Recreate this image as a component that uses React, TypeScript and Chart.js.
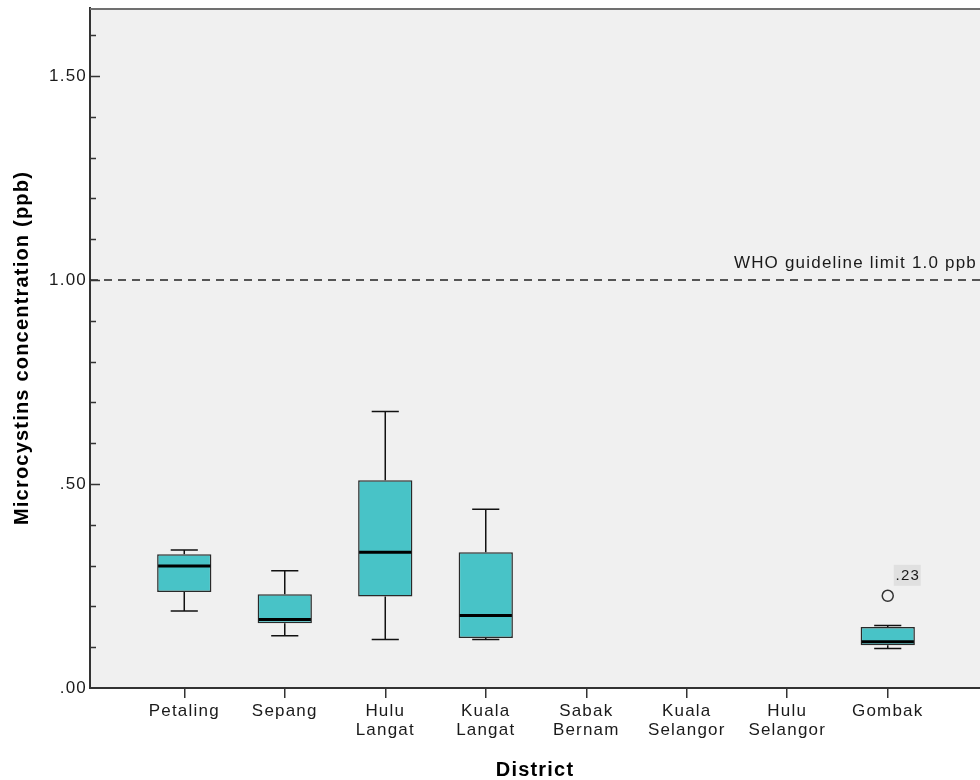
import React, { useEffect, useRef } from 'react';
import { Chart, registerables } from 'chart.js';

Chart.register(...registerables);

// ---- data ----
const districts: string[][] = [
  ['Petaling'],
  ['Sepang'],
  ['Hulu', 'Langat'],
  ['Kuala', 'Langat'],
  ['Sabak', 'Bernam'],
  ['Kuala', 'Selangor'],
  ['Hulu', 'Selangor'],
  ['Gombak'],
];
const whiskerLow: (number | null)[] = [0.189, 0.128, 0.119, 0.119, null, null, null, 0.097];
const quartile1: (number | null)[] = [0.235, 0.159, 0.224, 0.1225, null, null, null, 0.105];
const medians: (number | null)[] = [0.299, 0.168, 0.333, 0.178, null, null, null, 0.1135];
const quartile3: (number | null)[] = [0.328, 0.23, 0.509, 0.333, null, null, null, 0.1495];
const whiskerHigh: (number | null)[] = [0.338, 0.2875, 0.678, 0.438, null, null, null, 0.153];
const outlierX = [7];
const outlierY = [0.226];
const outlierLabels = ['.23'];
const yTickValues = [0, 0.5, 1.0, 1.5];
const yMin = 0;
const yMax = 1.6667;
const xMin = -0.938;
const xMax = 7.918;
const guidelineValue = 1.0;
const guidelineLabel = 'WHO guideline limit 1.0 ppb';
const yTitle = 'Microcystins concentration (ppb)';
const xTitle = 'District';

const FONT = '"Liberation Sans", Arial, Helvetica, sans-serif';
const LS = '1.2px';
const BOX_FILL = '#48c3c7';
const PLOT_BG = '#f0f0f0';
const BOX_HALF = 0.27; // in category units
const CAP_HALF = 0.135;

const spacingPlugin = {
  id: 'spacingAndBg',
  beforeUpdate(chart: any) {
    chart.ctx.letterSpacing = LS;
  },
  beforeDraw(chart: any) {
    const { ctx, chartArea } = chart;
    ctx.save();
    ctx.fillStyle = PLOT_BG;
    ctx.fillRect(chartArea.left, chartArea.top, chartArea.right - chartArea.left, chartArea.bottom - chartArea.top);
    ctx.restore();
    ctx.letterSpacing = LS;
  },
};

const boxPlugin = {
  id: 'boxParts',
  beforeDatasetsDraw(chart: any) {
    const { ctx } = chart;
    const xs = chart.scales.x;
    const ys = chart.scales.y;
    ctx.save();
    ctx.strokeStyle = '#111';
    ctx.lineWidth = 1.5;
    districts.forEach((_, i) => {
      if (quartile1[i] == null) return;
      const px = xs.getPixelForValue(i);
      const cap = xs.getPixelForValue(i + CAP_HALF) - px;
      const yLo = ys.getPixelForValue(whiskerLow[i] as number);
      const yHi = ys.getPixelForValue(whiskerHigh[i] as number);
      const yQ1 = ys.getPixelForValue(quartile1[i] as number);
      const yQ3 = ys.getPixelForValue(quartile3[i] as number);
      ctx.beginPath();
      ctx.moveTo(px, yQ3);
      ctx.lineTo(px, yHi);
      ctx.moveTo(px - cap, yHi);
      ctx.lineTo(px + cap, yHi);
      ctx.moveTo(px, yQ1);
      ctx.lineTo(px, yLo);
      ctx.moveTo(px - cap, yLo);
      ctx.lineTo(px + cap, yLo);
      ctx.stroke();
    });
    ctx.restore();
  },
  afterDatasetsDraw(chart: any) {
    const { ctx, chartArea } = chart;
    const xs = chart.scales.x;
    const ys = chart.scales.y;
    ctx.save();
    // medians
    ctx.strokeStyle = '#000';
    ctx.lineWidth = 3;
    districts.forEach((_, i) => {
      if (medians[i] == null) return;
      const px = xs.getPixelForValue(i);
      const half = xs.getPixelForValue(i + BOX_HALF) - px;
      const y = ys.getPixelForValue(medians[i] as number);
      ctx.beginPath();
      ctx.moveTo(px - half + 1, y);
      ctx.lineTo(px + half - 1, y);
      ctx.stroke();
    });
    // guideline
    const gy = ys.getPixelForValue(guidelineValue);
    ctx.strokeStyle = '#222';
    ctx.lineWidth = 1.5;
    ctx.setLineDash([8, 6]);
    ctx.beginPath();
    ctx.moveTo(chartArea.left, gy);
    ctx.lineTo(chartArea.right, gy);
    ctx.stroke();
    ctx.setLineDash([]);
    ctx.letterSpacing = LS;
    ctx.fillStyle = '#1a1a1a';
    ctx.font = '17px ' + FONT;
    ctx.textAlign = 'right';
    ctx.textBaseline = 'alphabetic';
    ctx.fillText(guidelineLabel, chartArea.right - 3, gy - 12);
    // y ticks (inward, major + minor)
    ctx.strokeStyle = '#333';
    ctx.lineWidth = 1.5;
    for (let k = 1; k <= 16; k++) {
      const v = k / 10;
      if (v > yMax) break;
      const y = Math.round(ys.getPixelForValue(v)) + 0.5;
      const len = k % 5 === 0 ? 10 : 6;
      ctx.beginPath();
      ctx.moveTo(chartArea.left, y);
      ctx.lineTo(chartArea.left + len, y);
      ctx.stroke();
    }
    // outlier labels
    outlierX.forEach((ox, j) => {
      const px = xs.getPixelForValue(ox);
      const py = ys.getPixelForValue(outlierY[j]);
      ctx.fillStyle = '#e0e0e0';
      ctx.fillRect(px + 6, py - 31, 27, 21);
      ctx.fillStyle = '#1a1a1a';
      ctx.textAlign = 'center';
      ctx.textBaseline = 'middle';
      ctx.font = '15px ' + FONT;
      ctx.fillText(outlierLabels[j], px + 20, py - 20);
    });
    // top frame
    ctx.fillStyle = '#707070';
    ctx.fillRect(chartArea.left, chartArea.top, chartArea.right - chartArea.left, 2);
    ctx.restore();
  },
};

export default function App() {
  const ref = useRef<HTMLCanvasElement>(null);
  useEffect(() => {
    document.body.style.margin = '0';
    document.body.style.background = '#ffffff';
    const boxData = districts
      .map((_, i) => (quartile1[i] == null ? null : { x: i, y: [quartile1[i], quartile3[i]] }))
      .filter((d) => d !== null);
    const chart = new Chart(ref.current as HTMLCanvasElement, {
      type: 'bar',
      data: {
        datasets: [
          {
            type: 'bar',
            data: boxData as any,
            backgroundColor: BOX_FILL,
            borderColor: '#2a2a2a',
            borderWidth: 1.5,
            borderSkipped: false,
            barPercentage: BOX_HALF * 2,
            categoryPercentage: 1,
          } as any,
          {
            type: 'scatter',
            data: outlierX.map((x, j) => ({ x, y: outlierY[j] })),
            pointRadius: 5.5,
            pointHoverRadius: 5.5,
            pointStyle: 'circle',
            backgroundColor: PLOT_BG,
            borderColor: '#333',
            borderWidth: 1.5,
            clip: false,
          } as any,
        ],
      },
      options: {
        animation: false,
        responsive: false,
        devicePixelRatio: 1,
        layout: { autoPadding: false, padding: { top: 8, left: 0, right: 0, bottom: 0 } },
        plugins: { legend: { display: false }, tooltip: { enabled: false } },
        scales: {
          x: {
            type: 'linear',
            min: xMin,
            max: xMax,
            offset: false,
            afterBuildTicks: (scale: any) => {
              scale.ticks = districts.map((_, i) => ({ value: i }));
            },
            afterFit: (scale: any) => {
              scale.height = 92;
              scale.paddingLeft = 0;
              scale.paddingRight = 0;
            },
            ticks: {
              autoSkip: false,
              maxRotation: 0,
              minRotation: 0,
              padding: 4,
              color: '#1a1a1a',
              font: { family: FONT, size: 17, lineHeight: 1.1 },
              callback: (v: any) => districts[Math.round(Number(v))] ?? '',
            },
            grid: {
              display: true,
              offset: false,
              drawOnChartArea: false,
              drawTicks: true,
              tickLength: 10,
              color: '#333',
              lineWidth: 1.5,
            },
            border: { display: true, color: '#333', width: 2 },
            title: {
              display: true,
              text: xTitle,
              color: '#000',
              font: { family: FONT, size: 20, weight: 'bold', lineHeight: 1 },
              padding: { top: 0, bottom: 0 },
            },
          },
          y: {
            type: 'linear',
            min: yMin,
            max: yMax,
            afterBuildTicks: (scale: any) => {
              scale.ticks = yTickValues.map((v) => ({ value: v }));
            },
            afterFit: (scale: any) => {
              scale.width = 90;
              scale.paddingTop = 0;
              scale.paddingBottom = 0;
            },
            ticks: {
              padding: 3,
              color: '#1a1a1a',
              font: { family: FONT, size: 17 },
              callback: (v: any) => {
                const s = Number(v).toFixed(2);
                return s.startsWith('0') ? s.slice(1) : s;
              },
            },
            grid: { display: false, drawTicks: false, tickLength: 0 },
            border: { display: true, color: '#333', width: 2 },
            title: {
              display: true,
              text: yTitle,
              color: '#000',
              font: { family: FONT, size: 20, weight: 'bold', lineHeight: 1.2 },
              padding: { top: 10, bottom: 0 },
            },
          },
        },
      },
      plugins: [spacingPlugin, boxPlugin],
    } as any);
    return () => chart.destroy();
  }, []);
  return (
    <div style={{ width: 980, height: 780 }}>
      <canvas ref={ref} width={980} height={780} style={{ display: 'block' }} />
    </div>
  );
}
